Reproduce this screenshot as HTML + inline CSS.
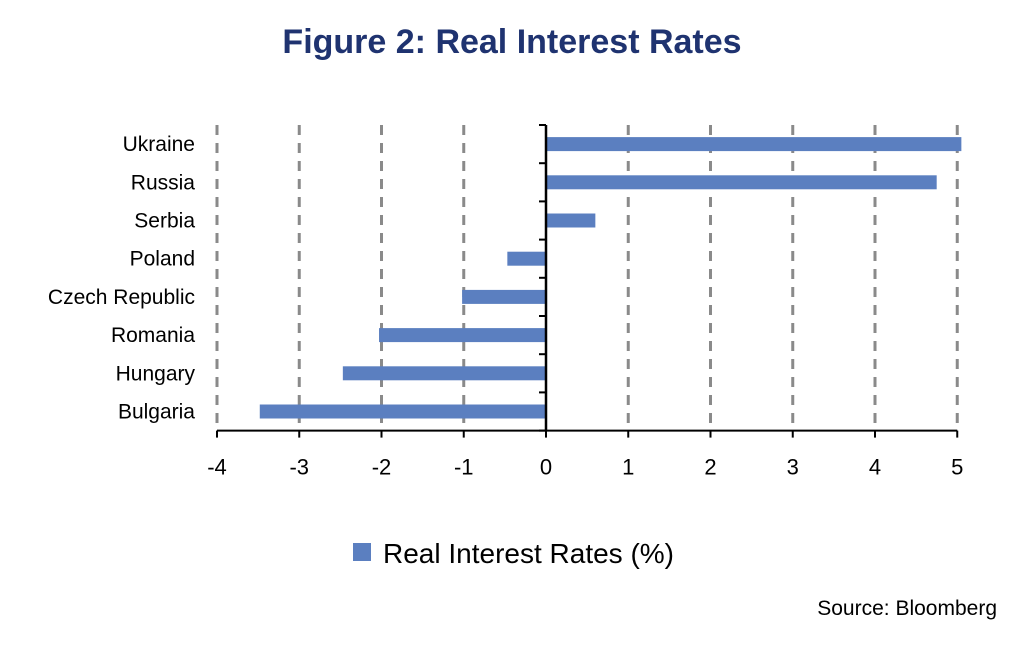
<!DOCTYPE html>
<html><head><meta charset="utf-8"><style>
body{margin:0;background:#fff;width:1024px;height:656px;overflow:hidden;font-family:"Liberation Sans",sans-serif}
</style></head><body>
<svg width="1024" height="656">
<text x="512" y="53" text-anchor="middle" font-size="34" font-weight="bold" fill="#1f3370">Figure 2: Real Interest Rates</text>
<g id="grid"></g><g id="bars"></g><g id="axes"></g>
<rect x="353" y="543" width="18" height="18" fill="#5b7fc0"/>
<text x="383" y="563" font-size="28" fill="#000">Real Interest Rates (%)</text>
<text x="997" y="615" text-anchor="end" font-size="21" fill="#000">Source: Bloomberg</text>
</svg>
<script>
const categories=["Ukraine","Russia","Serbia","Poland","Czech Republic","Romania","Hungary","Bulgaria"];
const values=[5.05,4.75,0.6,-0.47,-1.02,-2.03,-2.47,-3.48];
const ticks=[-4,-3,-2,-1,0,1,2,3,4,5];
const NS="http://www.w3.org/2000/svg";
const x=v=>546+(v)*82.25;
const top0=125,band=38.2,bottom=top0+band*8;
const y=i=>top0+band*i+band/2;
function mk(t,a,p){const e=document.createElementNS(NS,t);for(const k in a)e.setAttribute(k,a[k]);p.appendChild(e);return e;}
const grid=document.getElementById('grid'),bars=document.getElementById('bars'),axes=document.getElementById('axes');
ticks.forEach(t=>{
 if(t!==0){const l=mk('line',{x1:x(t),x2:x(t),y1:top0,y2:bottom,stroke:'#8a8a8a','stroke-width':3,'stroke-dasharray':'10,8'},grid);
 
 }
 const tk=mk('line',{x1:x(t),x2:x(t),y1:bottom,y2:bottom+7,stroke:'#000','stroke-width':2},axes);
 
 
 const tx=mk('text',{x:x(t),y:bottom+44,'text-anchor':'middle','font-size':22},axes);tx.textContent=t;
 
 
});
categories.forEach((c,i)=>{
 const v=values[i];const r=mk('rect',{x:Math.min(x(0),x(v)),y:y(i)-7,width:Math.abs(x(v)-x(0)),height:14,fill:'#5b7fc0'},bars);
 
 
 const t=mk('text',{x:195,y:y(i)+7,'text-anchor':'end','font-size':21},axes);t.textContent=c;
 
 
});
for(let i=0;i<=8;i++){const l=mk('line',{x1:x(0)-7,x2:x(0),y1:top0+band*i,y2:top0+band*i,stroke:'#000','stroke-width':2},axes);
 
 }
const ya=mk('line',{x1:x(0),x2:x(0),y1:top0,y2:bottom,stroke:'#000','stroke-width':2.5},axes);


const xa=mk('line',{x1:x(-4),x2:x(5),y1:bottom,y2:bottom,stroke:'#000','stroke-width':2},axes);


</script>
</body></html>
